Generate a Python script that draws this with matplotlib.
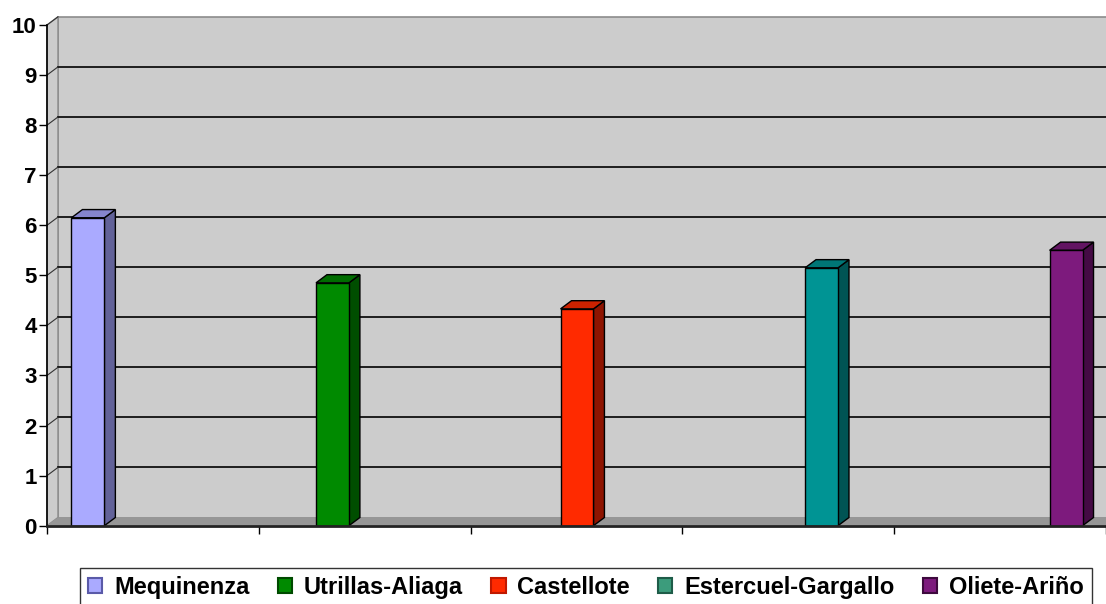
import matplotlib.pyplot as plt
from matplotlib.patches import Patch, Polygon, Rectangle

# Datos
zonas = ['Mequinenza', 'Utrillas-Aliaga', 'Castellote', 'Estercuel-Gargallo', 'Oliete-Ariño']
valores = [6.15, 4.85, 4.33, 5.15, 5.5]

# Colores (frente, lateral, tapa) y color de la leyenda
c_frente = ['#aaaaff', '#008a00', '#ff2a00', '#009494', '#7d1a7d']
c_lado = ['#626299', '#004e00', '#8e1400', '#005454', '#440a44']
c_tapa = ['#8585cc', '#006c00', '#cc2200', '#007676', '#621462']
c_leyenda = ['#aaaaff', '#008a00', '#ff2a00', '#3c9c7c', '#7d1a7d']
c_borde_ley = ['#5a5aa8', '#004a00', '#c01800', '#1e5c48', '#3e0a3e']

plt.rcParams['font.family'] = ['Liberation Sans', 'DejaVu Sans']

fig = plt.figure(figsize=(11.06, 6.04), dpi=100)
ax = fig.add_axes([47 / 1106, 1 - 525.7 / 604, (1106 - 47) / 1106, 500.7 / 604])

XMAX = (1106 - 47) / 212.2
DX, DY = 11 / 212.2, 8.2 / 50.07   # profundidad 3D en unidades de datos
ancho = 33 / 212.2
x0, paso = 41 / 212.2, 245 / 212.2  # centro de la primera columna y separación

ax.set_xlim(0, XMAX)
ax.set_ylim(0, 10)

# Pared del fondo
ax.add_patch(Rectangle((DX, DY), XMAX + 1, 10, facecolor='#cccccc',
                       edgecolor='#8c8c8c', lw=1.2, clip_on=False, zorder=0))
# Pared lateral
ax.add_patch(Polygon([(0, 0), (0, 10), (DX, 10 + DY), (DX, DY)], closed=True,
                     facecolor='#cccccc', edgecolor='#8c8c8c', lw=1, clip_on=False, zorder=0.5))
# Suelo
ax.add_patch(Polygon([(0, 0), (XMAX + 1, 0), (XMAX + 1 + DX, DY), (DX, DY)], closed=True,
                     facecolor='#969696', edgecolor='none', clip_on=False, zorder=0.6))

# Líneas de división
for k in range(1, 10):
    ax.plot([DX, XMAX + 1], [k + DY, k + DY], color='black', lw=1.2, zorder=0.7, clip_on=False)
    ax.plot([0, DX], [k, k + DY], color='#333333', lw=0.8, zorder=0.7, clip_on=False)
ax.plot([0, DX], [10, 10 + DY], color='#333333', lw=0.8, zorder=0.7, clip_on=False)

# Columnas 3D
for i, v in enumerate(valores):
    xl = x0 + paso * i - ancho / 2
    xr = xl + ancho
    ax.add_patch(Polygon([(xr, 0), (xr, v), (xr + DX, v + DY), (xr + DX, DY)], closed=True,
                         facecolor=c_lado[i], edgecolor='black', lw=1, zorder=2))
    ax.add_patch(Polygon([(xl, v), (xr, v), (xr + DX, v + DY), (xl + DX, v + DY)], closed=True,
                         facecolor=c_tapa[i], edgecolor='black', lw=1, zorder=2))
    ax.bar(xl, v, width=ancho, align='edge', color=c_frente[i], edgecolor='black',
           lw=1, zorder=3)

# Ejes
for s in ['top', 'right']:
    ax.spines[s].set_visible(False)
ax.spines['left'].set_color('black')
ax.spines['left'].set_linewidth(1.2)
ax.spines['left'].set_zorder(4)
ax.spines['bottom'].set_color('#222222')
ax.spines['bottom'].set_linewidth(2)
ax.spines['bottom'].set_zorder(4)
ax.set_yticks(range(0, 11))
ax.set_xticks(range(0, 6))
ax.set_xticklabels([])
ax.tick_params(axis='y', length=5.5, width=1, pad=2, labelsize=16)
ax.tick_params(axis='x', length=5.5, width=1)
for t in ax.get_yticklabels():
    t.set_fontweight('bold')
ax.patch.set_visible(False)

# Leyenda
handles = [Patch(facecolor=c_leyenda[i], edgecolor=c_borde_ley[i], lw=1.5) for i in range(len(zonas))]
leg = fig.legend(handles, zonas, loc='upper left', bbox_to_anchor=(80 / 1106, 1 - 568 / 604),
                 ncol=5, frameon=True, fancybox=False, edgecolor='black',
                 prop={'weight': 'bold', 'size': 17}, handlelength=0.6, handleheight=0.6,
                 handletextpad=0.5, columnspacing=1.2, borderpad=0.35, borderaxespad=0)
leg.get_frame().set_linewidth(1)

fig.savefig('out.png', dpi=100)
